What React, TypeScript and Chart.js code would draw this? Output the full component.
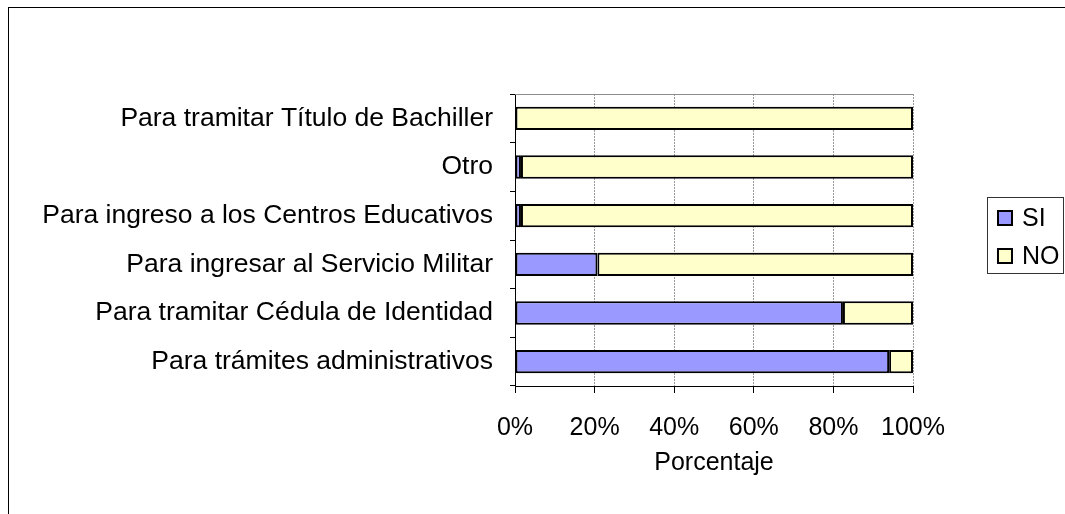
import React, { useEffect, useRef } from 'react';
import { Chart, registerables } from 'chart.js';

Chart.register(...registerables);

const categories = [
  'Para tramitar Título de Bachiller',
  'Otro',
  'Para ingreso a los Centros Educativos',
  'Para ingresar al Servicio Militar',
  'Para tramitar Cédula de Identidad',
  'Para trámites administrativos',
];
const seriesNames = ['SI', 'NO'];
const siValues = [0, 1.5, 1.5, 20.7, 82.4, 94];
const noValues = [100, 98.5, 98.5, 79.3, 17.6, 6];
const xTickLabels = ['0%', '20%', '40%', '60%', '80%', '100%'];
const xAxisTitle = 'Porcentaje';

const FONT = "'Liberation Sans', Arial, sans-serif";

const plotFrame = {
  id: 'plotFrame',
  beforeDatasetsDraw(chart: any) {
    const { ctx, chartArea } = chart;
    ctx.save();
    ctx.strokeStyle = '#8c8c8c';
    ctx.lineWidth = 1;
    ctx.beginPath();
    ctx.moveTo(chartArea.left, Math.round(chartArea.top) + 0.5);
    ctx.lineTo(chartArea.right, Math.round(chartArea.top) + 0.5);
    ctx.stroke();
    ctx.restore();
  },
};

const boxLegend = {
  id: 'boxLegend',
  afterDraw(chart: any) {
    const ctx = chart.ctx;
    const x0 = 978;
    const y0 = 189;
    const w = 76;
    const h = 76;
    ctx.save();
    ctx.strokeStyle = '#333';
    ctx.lineWidth = 1;
    ctx.strokeRect(x0 + 0.5, y0 + 0.5, w, h);
    chart.data.datasets.forEach((ds: any, i: number) => {
      const sy = y0 + 13 + i * 38;
      ctx.fillStyle = ds.backgroundColor;
      ctx.fillRect(988, sy, 16, 16);
      ctx.strokeStyle = '#000';
      ctx.lineWidth = 2;
      ctx.strokeRect(989, sy + 1, 14, 14);
      ctx.fillStyle = '#000';
      ctx.font = `25px ${FONT}`;
      ctx.textBaseline = 'middle';
      ctx.textAlign = 'left';
      ctx.fillText(ds.label, 1013, sy + 9);
    });
    ctx.restore();
  },
};

export default function App() {
  const ref = useRef<HTMLCanvasElement>(null);

  useEffect(() => {
    if (!ref.current) return;
    Chart.defaults.font.family = FONT;
    Chart.defaults.font.size = 25;
    Chart.defaults.color = '#000';
    const chart = new Chart(ref.current, {
      type: 'bar',
      data: {
        labels: categories,
        datasets: [
          {
            label: seriesNames[0],
            data: siValues,
            backgroundColor: '#9999FF',
            borderColor: '#000',
            borderWidth: 2,
            borderSkipped: false,
            barPercentage: 0.48,
            categoryPercentage: 1,
          },
          {
            label: seriesNames[1],
            data: noValues,
            backgroundColor: '#FFFFCC',
            borderColor: '#000',
            borderWidth: 2,
            borderSkipped: false,
            barPercentage: 0.48,
            categoryPercentage: 1,
          },
        ],
      },
      options: {
        indexAxis: 'y',
        responsive: false,
        animation: false,
        layout: { padding: { top: 86, left: 0, right: 152, bottom: 0 } },
        plugins: {
          legend: { display: false },
          tooltip: { enabled: false },
          title: { display: false },
        },
        scales: {
          x: {
            stacked: true,
            min: 0,
            max: 100,
            ticks: {
              stepSize: 20,
              padding: 20,
              color: '#000',
              font: { size: 25 },
              callback: (v: any) => xTickLabels[Math.round(Number(v) / 20)],
            },
            grid: {
              color: '#9a9a9a',
              tickColor: '#000',
              tickLength: 7,
              lineWidth: 1,
            },
            border: { color: '#000', width: 1, dash: [2, 1] },
            title: {
              display: true,
              text: xAxisTitle,
              color: '#000',
              font: { size: 25 },
              padding: { top: 0, bottom: 36 },
            },
            afterFit: (s: any) => {
              s.height = 128;
            },
          },
          y: {
            stacked: true,
            ticks: { padding: 17, color: '#000', font: { size: 26.5 } },
            grid: {
              display: true,
              drawOnChartArea: false,
              offset: true,
              tickColor: '#000',
              tickLength: 5,
            },
            border: { color: '#000', width: 1 },
            afterFit: (s: any) => {
              s.width = 506;
            },
          },
        },
      },
      plugins: [plotFrame, boxLegend],
    });
    return () => chart.destroy();
  }, []);

  return (
    <div
      style={{
        position: 'fixed',
        left: 8,
        top: 7,
        width: 1057,
        height: 507,
        borderLeft: '1px solid #000',
        borderTop: '1px solid #000',
        boxSizing: 'border-box',
        background: '#fff',
      }}
    >
      <canvas ref={ref} width={1056} height={506} style={{ display: 'block' }} />
    </div>
  );
}
